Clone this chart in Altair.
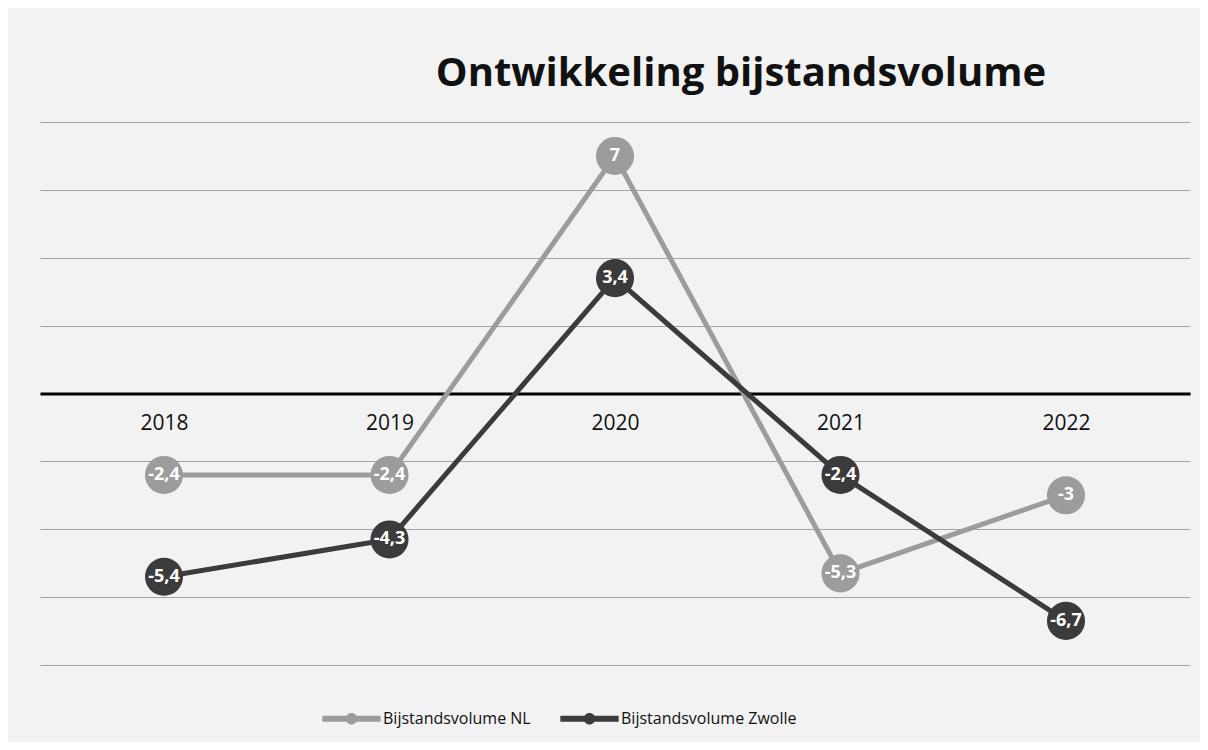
import altair as alt
import pandas as pd

years = ["2018", "2019", "2020", "2021", "2022"]
nl_values = [-2.4, -2.4, 7, -5.3, -3]
zwolle_values = [-5.4, -4.3, 3.4, -2.4, -6.7]
series_names = ["Bijstandsvolume NL", "Bijstandsvolume Zwolle"]
series_colors = ["#9c9c9c", "#3b3b3b"]
y_ticks = [-8, -6, -4, -2, 0, 2, 4, 6, 8]

rows = []
for name, vals in zip(series_names, [nl_values, zwolle_values]):
    for yr, v in zip(years, vals):
        rows.append({"year": yr, "value": v, "series": name,
                     "label": (f"{v:g}").replace(".", ",")})
df = pd.DataFrame(rows)

W, H = 1150, 543
FONT = "Open Sans"

x_enc = alt.X("year:N", sort=years, title=None,
              scale=alt.Scale(type="point", padding=0.55),
              axis=alt.Axis(orient="bottom", offset=-H / 2, domainColor="#000000",
                            domainWidth=3, ticks=False, labelAngle=0,
                            labelPadding=19, labelFontSize=21, labelColor="#111111",
                            labelFont=FONT, grid=False))
y_enc = alt.Y("value:Q", title=None,
              scale=alt.Scale(domain=[-8, 8], nice=False),
              axis=alt.Axis(values=y_ticks, labels=False, ticks=False, domain=False,
                            grid=True, gridColor="#a3a3a3", gridWidth=1.2))
color_scale = alt.Scale(domain=series_names, range=series_colors)

legend_symbol = ("M-1,-0.1L1,-0.1L1,0.1L-1,0.1Z "
                 "M-0.2,0A0.2,0.2 0 1,1 0.2,0A0.2,0.2 0 1,1 -0.2,0Z")

lines = alt.Chart(df).mark_line(strokeWidth=5).encode(
    x=x_enc, y=y_enc,
    color=alt.Color("series:N", scale=color_scale, title=None,
                    legend=alt.Legend(orient="none", legendX=282, legendY=567,
                                      direction="horizontal", symbolType=legend_symbol,
                                      symbolSize=3400, symbolStrokeWidth=0,
                                      labelFont=FONT, labelFontSize=16, labelLimit=0,
                                      labelColor="#111111", columnPadding=29,
                                      labelOffset=2)),
    detail="series:N",
)

points = alt.Chart(df).mark_circle(size=1450, opacity=1).encode(
    x=x_enc, y=y_enc,
    color=alt.Color("series:N", scale=color_scale, legend=None),
)

labels = alt.Chart(df).mark_text(color="white", fontWeight="bold", fontSize=18,
                                 font=FONT, baseline="middle", align="center").encode(
    x=x_enc, y=y_enc, text="label:N",
)

chart = alt.layer(lines, points, labels).properties(
    width=W, height=H,
    title=alt.TitleParams("Ontwikkeling bijstandsvolume", font=FONT, fontSize=40,
                          fontWeight="bold", color="#111111", anchor="middle",
                          dx=126, offset=28),
    background="#f2f2f2",
    padding={"left": 32, "top": 114, "right": 10, "bottom": 77},
    autosize=alt.AutoSizeParams(type="none"),
).configure_view(stroke=None)

chart.save("out.html", embed_options={"renderer": "svg", "actions": False})
